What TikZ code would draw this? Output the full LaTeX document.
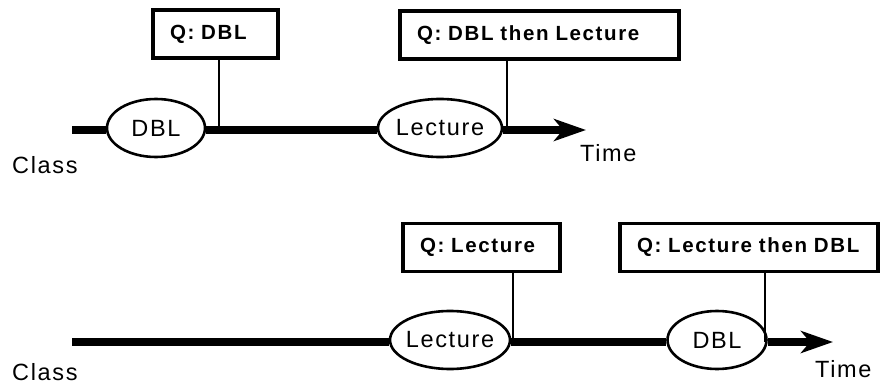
\documentclass[tikz,border=0pt]{standalone}
\usepackage{fontspec}
\setmainfont{Liberation Sans}
\newfontfamily\boxfont{Liberation Sans}[LetterSpace=8]
\newfontfamily\plainfont{Liberation Sans}[LetterSpace=7]
\usetikzlibrary{shapes.geometric,arrows.meta}
\begin{document}
\begin{tikzpicture}[x=1pt,y=-1pt,
  qbox/.style={draw,line width=3.5pt,minimum height=48pt,inner xsep=17pt,align=left,
    font=\boxfont\bfseries\fontsize{20.5}{23}\selectfont},
  phase/.style={draw,ellipse,fill=white,line width=2.6pt,inner xsep=-4pt,inner ysep=0pt,
    minimum height=58pt,font=\plainfont\fontsize{23.5}{26}\selectfont},
  tl/.style={line width=8pt},
  conn/.style={line width=1.8pt},
  lbl/.style={anchor=base west,inner sep=0pt,font=\plainfont\fontsize{23.5}{26}\selectfont}]
\useasboundingbox (0,0) rectangle (881,385);
% ---- top row ----
\coordinate (s1) at (72,130);
\coordinate (e1) at (586,130);
\node[phase,minimum width=98pt] (dbl1) at (156,128) {DBL};
\node[phase,minimum width=124pt] (lec1) at (440,128) {Lecture};
\draw[tl] (s1) -- (dbl1.west |- s1);
\draw[tl] (dbl1.east |- s1) -- (lec1.west |- s1);
\draw[tl,-{Stealth[length=32pt,width=22pt,inset=9pt]}] (lec1.east |- s1) -- (e1);
\node[qbox,text width=91pt] (q1) at (215.5,34) {Q: DBL};
\node[qbox,text width=245pt] (q2) at (539.5,35) {Q: DBL then Lecture};
\coordinate (j1) at (219,130);
\coordinate (j2) at (507,130);
\draw[conn] (q1.south -| j1) -- (j1);
\draw[conn] (q2.south -| j2) -- (j2);
\node[lbl] (c1) at (12,173) {Class};
\node[lbl] (t1) at (580,162) {Time};
% ---- bottom row ----
\coordinate (s2) at (72,342);
\coordinate (e2) at (833,342);
\node[phase,minimum width=120pt] (lec2) at (450,340) {Lecture};
\node[phase,minimum width=99pt] (dbl2) at (717,340) {DBL};
\draw[tl] (s2) -- (lec2.west |- s2);
\draw[tl] (lec2.east |- s2) -- (dbl2.west |- s2);
\draw[tl,-{Stealth[length=32pt,width=22pt,inset=9pt]}] (dbl2.east |- s2) -- (e2);
\node[qbox,text width=123pt] (q3) at (481.5,247.5) {Q: Lecture};
\node[qbox,text width=224pt] (q4) at (749,247.5) {Q: Lecture then DBL};
\coordinate (j3) at (513,342);
\coordinate (j4) at (765,342);
\draw[conn] (q3.south -| j3) -- (j3);
\draw[conn] (q4.south -| j4) -- (j4);
\node[lbl] (c2) at (12,380) {Class};
\node[lbl] (t2) at (815,377) {Time};
\end{tikzpicture}
\end{document}
